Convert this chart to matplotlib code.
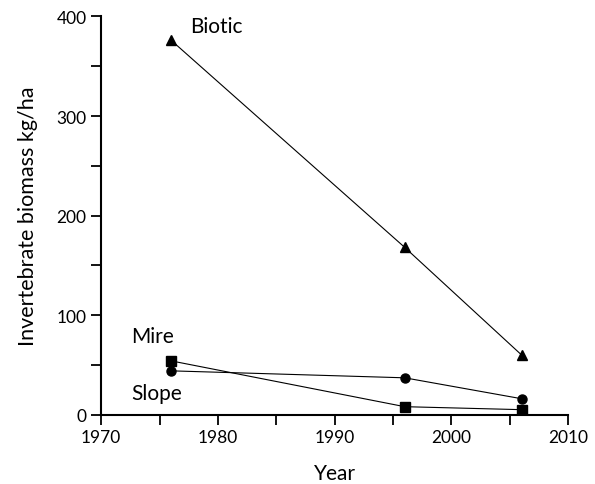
import matplotlib
matplotlib.use("Agg")
from matplotlib import pyplot as plt
from matplotlib.ticker import MultipleLocator

plt.rcParams['font.family'] = ['Lato', 'DejaVu Sans']

years = [1976, 1996, 2006]
biotic = [376, 168, 60]
mire = [54, 8, 5]
slope = [44, 37, 16]

fig = plt.figure(figsize=(5.95, 4.85), dpi=100)
ax = fig.add_axes([0.170, 0.143, 0.785, 0.821])

ax.plot(years, biotic, color="black", lw=0.8, marker="^", ms=6.5)
ax.plot(years, mire, color="black", lw=0.8, marker="s", ms=6.5)
ax.plot(years, slope, color="black", lw=0.8, marker="o", ms=6.5)

ax.text(1977.6, 390, "Biotic", fontsize=15, va="center")
ax.text(1972.6, 79, "Mire", fontsize=15, va="center")
ax.text(1972.6, 22, "Slope", fontsize=15, va="center")

ax.set_xlim(1970, 2010)
ax.set_ylim(0, 400)
ax.xaxis.set_major_locator(MultipleLocator(10))
ax.xaxis.set_minor_locator(MultipleLocator(5))
ax.yaxis.set_major_locator(MultipleLocator(100))
ax.yaxis.set_minor_locator(MultipleLocator(50))
ax.tick_params(which="both", direction="out", length=7, width=1.3, labelsize=12.5)
for s in ["top", "right"]:
    ax.spines[s].set_visible(False)
for s in ["left", "bottom"]:
    ax.spines[s].set_linewidth(1.5)

ax.set_xlabel("Year", fontsize=15, labelpad=13)
ax.set_ylabel("Invertebrate biomass kg/ha", fontsize=15.5, labelpad=13)

fig.savefig("out.png", dpi=100)
